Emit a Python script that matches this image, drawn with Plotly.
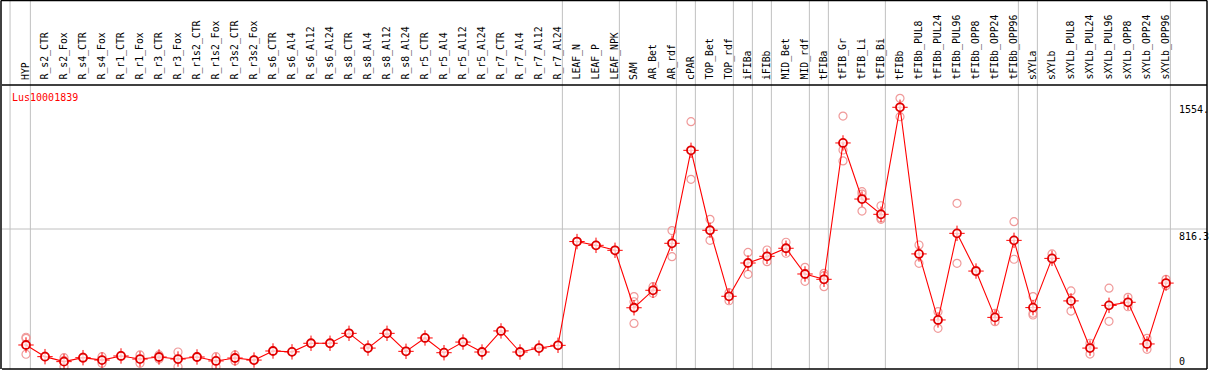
import plotly.graph_objects as go

categories = ["HYP", "R_s2_CTR", "R_s2_Fox", "R_s4_CTR", "R_s4_Fox", "R_r1_CTR", "R_r1_Fox",
              "R_r3_CTR", "R_r3_Fox", "R_r1s2_CTR", "R_r1s2_Fox", "R_r3s2_CTR", "R_r3s2_Fox",
              "R_s6_CTR", "R_s6_Al4", "R_s6_Al12", "R_s6_Al24", "R_s8_CTR", "R_s8_Al4", "R_s8_Al12",
              "R_s8_Al24", "R_r5_CTR", "R_r5_Al4", "R_r5_Al12", "R_r5_Al24", "R_r7_CTR", "R_r7_Al4",
              "R_r7_Al12", "R_r7_Al24", "LEAF_N", "LEAF_P", "LEAF_NPK", "SAM", "AR_Bet", "AR_rdf",
              "cPAR", "TOP_Bet", "TOP_rdf", "iFIBa", "iFIBb", "MID_Bet", "MID_rdf", "tFIBa",
              "tFIB_Gr", "tFIB_Li", "tFIB_Bi", "tFIBb", "tFIBb_PUL8", "tFIBb_PUL24", "tFIBb_PUL96",
              "tFIBb_OPP8", "tFIBb_OPP24", "tFIBb_OPP96", "sXYLa", "sXYLb", "sXYLb_PUL8",
              "sXYLb_PUL24", "sXYLb_PUL96", "sXYLb_OPP8", "sXYLb_OPP24", "sXYLb_OPP96"]

means = [140, 72, 43, 66, 52, 76, 58, 70, 58, 70, 47, 64, 52,
         105, 100, 150, 150, 208, 122, 208, 103, 181, 95, 157, 99, 222, 99, 122, 138,
         743, 721, 692, 357, 459, 733, 1275, 809, 424, 618, 657, 704, 554, 523,
         1318, 991, 902, 1526, 671, 286, 791, 571, 301, 750, 358, 645, 397,
         122, 371, 389, 146, 501]

replicates = [[185, 179, 86], [75, 70], [66, 13, 50], [70, 62], [72, 33], [78, 74], [82, 33],
              [82, 58], [99, 13], [72, 68], [72, 13], [82, 47], [54, 50],
              [105], [100], [150], [150], [208], [122], [208], [103], [181], [95], [157], [99],
              [222], [99], [122], [138], [743], [721], [692],
              [422, 392, 266], [480, 441], [807, 655], [1442, 1106], [873, 750], [445, 398],
              [680, 552], [694, 626], [739, 675], [593, 511], [558, 480, 545],
              [1475, 1277, 1213], [1034, 1020, 921], [952, 873, 880], [1578, 1471],
              [723, 616], [334, 237], [966, 616], [575, 567], [325, 276], [859, 640],
              [422, 325, 315], [671, 640], [455, 338], [150, 87], [471, 278], [418, 363],
              [179, 115], [523, 486]]

gene_name = "Lus10001839"
y_labels = ["1554.", "816.3", "0"]
y_label_values = [1554, 816.3, 0]
grid_value = 816.3
group_last_index = [0, 28, 31, 34, 35, 37, 38, 39, 41, 42, 45, 52, 53, 60]

FONT = "DejaVu Sans Mono"
W, H = 1209, 370
ML, MR, MT, MB = 2, 2, 85, 1
PW, PH = W - ML - MR, H - MT - MB
PX_PER_CAT = 19.0
x0 = -(26 - ML) / PX_PER_CAT
x1 = x0 + PW / PX_PER_CAT
ymax = grid_value * PH / 140.0

xs = list(range(len(categories)))
rx, ry = [], []
for i, reps in enumerate(replicates):
    for v in reps:
        rx.append(i)
        ry.append(v)

fig = go.Figure()
fig.add_trace(go.Scatter(x=rx, y=ry, mode="markers",
                         marker=dict(symbol="circle-open", size=8, color="#f09a9a",
                                     line=dict(width=1.2, color="#f09a9a")),
                         hoverinfo="skip", showlegend=False))
fig.add_trace(go.Scatter(x=xs, y=means, mode="lines",
                         line=dict(color="red", width=1.1), showlegend=False))
fig.add_trace(go.Scatter(x=xs, y=means, mode="markers",
                         marker=dict(symbol="cross-thin-open", size=11, color="red",
                                     line=dict(width=1, color="red")),
                         hoverinfo="skip", showlegend=False))
fig.add_trace(go.Scatter(x=xs, y=means, mode="markers",
                         marker=dict(symbol="circle", size=8, color="rgba(255,255,255,0.75)",
                                     line=dict(width=1.8, color="#e00000")),
                         showlegend=False))

shapes = []
top_paper = (H - 0.5 - MB) / PH
vlines = [-0.84] + [i + 0.23 for i in group_last_index]
for v in vlines:
    shapes.append(dict(type="line", xref="x", yref="paper", x0=v, x1=v, y0=0, y1=top_paper,
                       line=dict(color="#c0c0c0", width=1), layer="below"))
shapes.append(dict(type="line", xref="paper", yref="y", x0=0, x1=1, y0=grid_value, y1=grid_value,
                   line=dict(color="#c0c0c0", width=1), layer="below"))
# frame lines
shapes.append(dict(type="line", xref="paper", yref="paper", x0=0, x1=1, y0=1, y1=1,
                   line=dict(color="black", width=1.5)))
shapes.append(dict(type="line", xref="paper", yref="paper", x0=0, x1=1, y0=0, y1=0,
                   line=dict(color="black", width=1.5)))
shapes.append(dict(type="line", xref="paper", yref="paper", x0=-1 / PW, x1=1, y0=top_paper, y1=top_paper,
                   line=dict(color="black", width=1.5)))
shapes.append(dict(type="line", xref="paper", yref="paper", x0=-1 / PW, x1=-1 / PW, y0=0, y1=top_paper,
                   line=dict(color="black", width=1.5)))
shapes.append(dict(type="line", xref="paper", yref="paper", x0=1, x1=1, y0=0, y1=top_paper,
                   line=dict(color="black", width=1.5)))

annotations = []
for i, c in enumerate(categories):
    annotations.append(dict(x=i, y=1 + 3 / PH, xref="x", yref="paper", text=c, showarrow=False,
                            textangle=-90, xanchor="center", yanchor="bottom",
                            font=dict(family=FONT, size=9.8, color="black")))
annotations.append(dict(x=(10 - ML) / PW, y=(H - MB - 97) / PH, xref="paper", yref="paper",
                        text=gene_name, showarrow=False, xanchor="left", yanchor="middle",
                        font=dict(family=FONT, size=10, color="red")))
for t, v in zip(y_labels, y_label_values):
    annotations.append(dict(x=(1177 - ML) / PW, y=v, xref="paper", yref="y", text=t,
                            showarrow=False, xanchor="left",
                            yanchor="bottom" if v == 0 else "top",
                            font=dict(family=FONT, size=10, color="black")))

fig.update_layout(
    width=W, height=H,
    margin=dict(l=ML, r=MR, t=MT, b=MB),
    paper_bgcolor="white", plot_bgcolor="white",
    xaxis=dict(range=[x0, x1], showgrid=False, zeroline=False, showticklabels=False,
               ticks="", fixedrange=True),
    yaxis=dict(range=[0, ymax], showgrid=False, zeroline=False, showticklabels=False,
               ticks="", fixedrange=True),
    shapes=shapes, annotations=annotations, showlegend=False,
)

fig.write_html("out.html", config={"displayModeBar": False},
               post_script="document.body.style.margin='0px';")
